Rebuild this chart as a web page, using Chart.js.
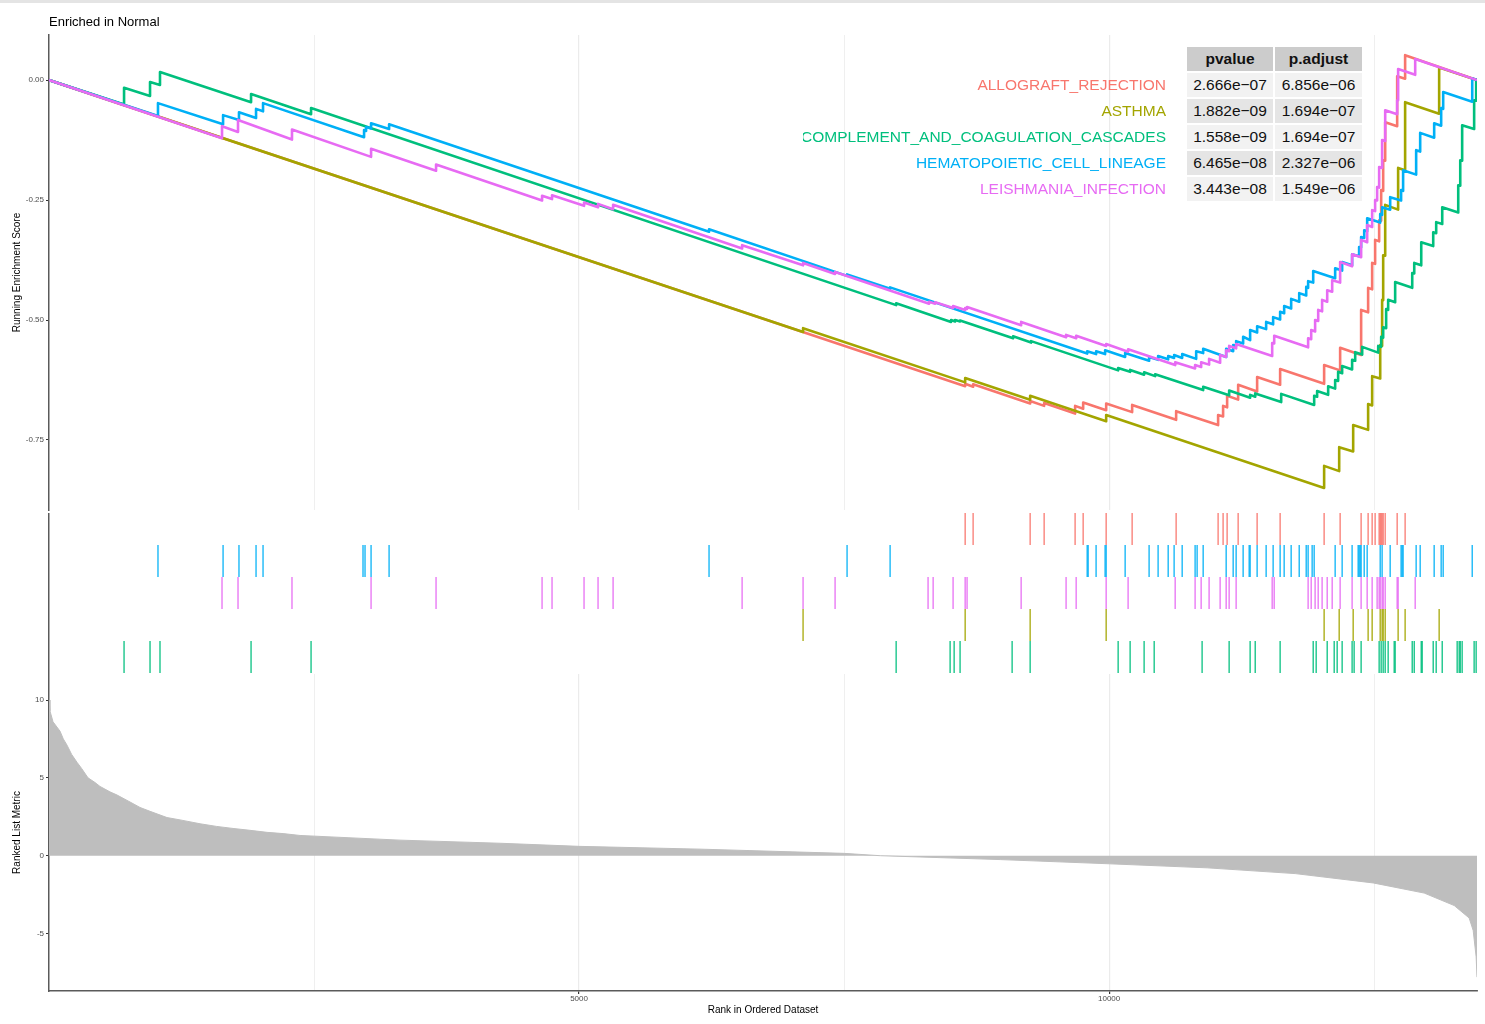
<!DOCTYPE html>
<html>
<head>
<meta charset="utf-8">
<title>Enriched in Normal</title>
<script src="https://cdn.jsdelivr.net/npm/chart.js@4.4.1/dist/chart.umd.min.js"></script>
<style>
  html, body { margin: 0; padding: 0; background: #fff; }
  #page { position: relative; width: 1485px; height: 1024px; overflow: hidden; font-family: "Liberation Sans", Arial, Helvetica, sans-serif; }
  #topline { position: absolute; left: 0; top: 0; width: 1485px; height: 3px; background: #e4e4e4; }
  canvas { position: absolute; left: 0; }
  #esChart { top: 0; }
  #rugChart { top: 513px; }
  #metricChart { top: 673px; }
  .cell { position: absolute; height: 24px; line-height: 24px; font-size: 15.5px; text-align: center; color: #111; }
  .head { background: #cccccc; font-weight: bold; }
  .odd { background: #f2f2f2; }
  .even { background: #e5e5e5; }
  .rowname { position: absolute; height: 24px; line-height: 24px; font-size: 15.5px;
             overflow: hidden; white-space: nowrap; display: flex; justify-content: flex-end; }
</style>
</head>
<body>
<div id="page">
  <div id="topline"></div>
  <canvas id="esChart" width="1485" height="513"></canvas>
  <canvas id="rugChart" width="1485" height="160"></canvas>
  <canvas id="metricChart" width="1485" height="351"></canvas>
  <div id="statTable"></div>
</div>
<script>
// ---- data ----
const N_GENES = 13470;

const setNames = ['ALLOGRAFT_REJECTION', 'ASTHMA', 'COMPLEMENT_AND_COAGULATION_CASCADES',
                  'HEMATOPOIETIC_CELL_LINEAGE', 'LEISHMANIA_INFECTION'];
const pvalues  = ['2.666e\u221207', '1.882e\u221209', '1.558e\u221209', '6.465e\u221208', '3.443e\u221208'];
const padjusts = ['6.856e\u221206', '1.694e\u221207', '1.694e\u221207', '2.327e\u221206', '1.549e\u221206'];

// running enrichment score: rank of each jump, score just before and just after it
const allograftSteps  = [8642, 8717, 9255, 9387, 9679, 9755, 9972, 10217, 10632, 11028, 11075, 11113, 11217, 11396, 11613, 12028, 12179, 12377, 12443, 12481, 12509, 12547, 12566, 12585, 12604, 12717, 12792];
const allograftBefore = [-0.638, -0.639, -0.674, -0.679, -0.695, -0.685, -0.688, -0.692, -0.708, -0.719, -0.701, -0.682, -0.666, -0.649, -0.635, -0.633, -0.605, -0.573, -0.484, -0.436, -0.383, -0.336, -0.293, -0.231, -0.168, -0.096, 0.003];
const allograftAfter  = [-0.633, -0.634, -0.669, -0.673, -0.679, -0.672, -0.674, -0.677, -0.690, -0.698, -0.679, -0.658, -0.635, -0.619, -0.602, -0.594, -0.558, -0.479, -0.433, -0.381, -0.333, -0.292, -0.229, -0.167, -0.088, 0.008, 0.052];

const asthmaSteps  = [7113, 8642, 9255, 9972, 12028, 12170, 12302, 12443, 12481, 12557, 12575, 12585, 12604, 12726, 12792, 13113];
const asthmaBefore = [-0.525, -0.630, -0.666, -0.711, -0.850, -0.815, -0.774, -0.729, -0.678, -0.622, -0.554, -0.459, -0.366, -0.270, -0.188, -0.070];
const asthmaAfter  = [-0.517, -0.621, -0.658, -0.698, -0.804, -0.765, -0.719, -0.675, -0.617, -0.552, -0.458, -0.365, -0.260, -0.183, -0.046, 0.026];

const complementSteps  = [708, 953, 1047, 1906, 2472, 7991, 8509, 8547, 8594, 9094, 9264, 10085, 10198, 10330, 10434, 10887, 11132, 11330, 11378, 11623, 11934, 11962, 12066, 12132, 12160, 12198, 12292, 12321, 12387, 12538, 12566, 12585, 12613, 12632, 12698, 12859, 12878, 12944, 13057, 13085, 13142, 13293, 13312, 13330, 13443, 13462];
const complementBefore = [-0.051, -0.033, -0.010, -0.046, -0.071, -0.469, -0.504, -0.503, -0.503, -0.538, -0.547, -0.605, -0.608, -0.614, -0.617, -0.646, -0.657, -0.662, -0.660, -0.671, -0.677, -0.660, -0.656, -0.643, -0.627, -0.611, -0.603, -0.585, -0.572, -0.568, -0.556, -0.537, -0.517, -0.479, -0.463, -0.433, -0.403, -0.386, -0.346, -0.319, -0.300, -0.276, -0.220, -0.168, -0.102, -0.043];
const complementAfter  = [-0.016, -0.004, 0.017, -0.029, -0.058, -0.465, -0.500, -0.500, -0.501, -0.534, -0.544, -0.600, -0.604, -0.609, -0.613, -0.639, -0.647, -0.656, -0.653, -0.654, -0.658, -0.648, -0.638, -0.625, -0.608, -0.596, -0.583, -0.567, -0.556, -0.554, -0.535, -0.515, -0.477, -0.458, -0.421, -0.402, -0.381, -0.338, -0.317, -0.296, -0.265, -0.219, -0.167, -0.094, -0.042, 0.001];

const hematoSteps  = [1028, 1642, 1792, 1953, 2019, 2972, 2991, 3038, 3208, 6226, 7528, 7934, 9793, 9877, 9962, 10151, 10377, 10462, 10557, 10613, 10689, 10821, 10887, 11104, 11170, 11198, 11264, 11330, 11396, 11481, 11547, 11613, 11651, 11717, 11793, 11859, 11877, 11925, 12132, 12198, 12292, 12358, 12377, 12406, 12434, 12557, 12575, 12651, 12754, 12773, 12896, 12934, 13066, 13132, 13151, 13425];
const hematoBefore = [-0.075, -0.092, -0.083, -0.079, -0.065, -0.119, -0.106, -0.101, -0.102, -0.316, -0.408, -0.435, -0.570, -0.571, -0.571, -0.577, -0.585, -0.583, -0.582, -0.579, -0.579, -0.581, -0.569, -0.577, -0.565, -0.554, -0.549, -0.542, -0.526, -0.519, -0.509, -0.499, -0.486, -0.476, -0.462, -0.449, -0.433, -0.422, -0.413, -0.397, -0.386, -0.367, -0.349, -0.329, -0.315, -0.297, -0.281, -0.270, -0.251, -0.231, -0.197, -0.149, -0.120, -0.095, -0.060, -0.045];
const hematoAfter  = [-0.048, -0.073, -0.067, -0.060, -0.048, -0.104, -0.098, -0.090, -0.092, -0.311, -0.405, -0.432, -0.565, -0.565, -0.563, -0.569, -0.577, -0.575, -0.575, -0.573, -0.571, -0.565, -0.560, -0.560, -0.552, -0.544, -0.535, -0.521, -0.513, -0.504, -0.494, -0.483, -0.471, -0.456, -0.444, -0.431, -0.419, -0.398, -0.392, -0.379, -0.363, -0.348, -0.327, -0.313, -0.288, -0.279, -0.265, -0.244, -0.229, -0.188, -0.146, -0.110, -0.090, -0.058, -0.025, 0.004];

const leishSteps  = [1632, 1783, 2292, 3038, 3651, 4651, 4745, 5047, 5179, 5321, 6538, 7113, 7415, 8302, 8359, 8528, 8642, 8660, 9170, 9594, 9689, 9972, 10179, 10623, 10811, 10868, 10943, 11047, 11104, 11132, 11198, 11538, 11557, 11877, 11906, 11943, 11972, 12009, 12057, 12104, 12179, 12292, 12377, 12434, 12481, 12509, 12528, 12547, 12575, 12604, 12717, 12726, 12887];
const leishBefore = [-0.121, -0.108, -0.124, -0.160, -0.189, -0.251, -0.248, -0.262, -0.265, -0.269, -0.351, -0.386, -0.404, -0.466, -0.466, -0.475, -0.479, -0.477, -0.511, -0.536, -0.538, -0.554, -0.566, -0.594, -0.601, -0.598, -0.593, -0.589, -0.577, -0.565, -0.559, -0.575, -0.549, -0.557, -0.540, -0.524, -0.502, -0.482, -0.462, -0.441, -0.422, -0.388, -0.369, -0.338, -0.306, -0.273, -0.251, -0.224, -0.183, -0.127, -0.071, -0.042, 0.011];
const leishAfter  = [-0.096, -0.083, -0.103, -0.143, -0.176, -0.241, -0.240, -0.255, -0.258, -0.260, -0.344, -0.381, -0.400, -0.462, -0.463, -0.471, -0.475, -0.473, -0.504, -0.531, -0.533, -0.550, -0.561, -0.588, -0.594, -0.588, -0.581, -0.573, -0.563, -0.554, -0.550, -0.548, -0.533, -0.538, -0.521, -0.500, -0.479, -0.458, -0.438, -0.417, -0.379, -0.363, -0.333, -0.302, -0.271, -0.250, -0.223, -0.181, -0.125, -0.063, -0.042, 0.023, 0.044];

// gene-set members along the ranked list (rug marks)
const allograftHits  = [8642, 8717, 9255, 9387, 9679, 9755, 9972, 10217, 10632, 11028, 11075, 11113, 11217, 11396, 11613, 12028, 12179, 12377, 12443, 12481, 12509, 12547, 12557, 12566, 12575, 12585, 12604, 12717, 12792];
const asthmaHits     = [7113, 8642, 9255, 9972, 12028, 12170, 12302, 12443, 12481, 12557, 12575, 12585, 12604, 12726, 12792, 13113];
const complementHits = [708, 953, 1047, 1906, 2472, 7991, 8500, 8538, 8594, 9085, 9255, 10085, 10198, 10330, 10425, 10877, 11132, 11330, 11378, 11613, 11925, 11953, 12057, 12123, 12151, 12198, 12292, 12311, 12377, 12547, 12566, 12585, 12604, 12632, 12689, 12698, 12859, 12878, 12944, 12953, 13057, 13085, 13142, 13283, 13302, 13312, 13330, 13443, 13462];
const hematoHits     = [1028, 1642, 1792, 1953, 2019, 2962, 2981, 3038, 3208, 6226, 7528, 7934, 9793, 9802, 9877, 9962, 9972, 10151, 10377, 10462, 10557, 10613, 10689, 10811, 10830, 10887, 11104, 11170, 11198, 11264, 11321, 11330, 11396, 11481, 11547, 11613, 11651, 11717, 11793, 11859, 11877, 11915, 11934, 12132, 12198, 12292, 12349, 12358, 12368, 12377, 12406, 12434, 12557, 12575, 12651, 12754, 12764, 12773, 12896, 12934, 13066, 13132, 13151, 13425];
const leishHits      = [1632, 1783, 2292, 3038, 3651, 4651, 4745, 5047, 5179, 5321, 6538, 7113, 7415, 8292, 8340, 8528, 8642, 8660, 9170, 9594, 9689, 9972, 10179, 10623, 10811, 10868, 10943, 11047, 11104, 11132, 11198, 11538, 11557, 11877, 11906, 11943, 11972, 12009, 12057, 12104, 12179, 12292, 12377, 12434, 12481, 12528, 12547, 12557, 12575, 12585, 12604, 12717, 12726, 12887];

// ranked list metric
const metricRank  = [0, 9, 38, 104, 135, 170, 214, 264, 308, 368, 434, 481, 575, 641, 764, 858, 953, 1113, 1236, 1425, 1582, 1736, 1896, 2057, 2208, 2368, 3311, 4255, 5000, 6151, 7500, 7840, 8972, 10000, 10925, 11755, 12491, 12972, 13255, 13396, 13434, 13462, 13470];
const metricValue = [10.0, 9.3, 8.6, 8.0, 7.5, 7.1, 6.5, 6.0, 5.6, 5.0, 4.7, 4.45, 4.1, 3.9, 3.45, 3.1, 2.85, 2.45, 2.3, 2.05, 1.88, 1.75, 1.63, 1.5, 1.42, 1.3, 1.0, 0.8, 0.6, 0.42, 0.15, 0.0, -0.25, -0.52, -0.78, -1.15, -1.75, -2.4, -3.2, -4.0, -4.8, -6.5, -7.8];

// axis ticks
const esTicks     = [-0.75, -0.5, -0.25, 0];
const metricTicks = [-5, 0, 5, 10];
const rankGrid    = [2500, 5000, 7500, 10000, 12500];
const rankLabels  = [5000, 10000];

// ---- styling ----
const setColors = ['#F8766D', '#A3A500', '#00BF7D', '#00B0F6', '#E76BF3'];
const rugTopToBottom = [0, 3, 4, 1, 2];   // index into setNames, top row first

const curves = [
  [allograftSteps, allograftBefore, allograftAfter],
  [asthmaSteps, asthmaBefore, asthmaAfter],
  [complementSteps, complementBefore, complementAfter],
  [hematoSteps, hematoBefore, hematoAfter],
  [leishSteps, leishBefore, leishAfter]
];
const hits = [allograftHits, asthmaHits, complementHits, hematoHits, leishHits];

Chart.defaults.font.family = '"Liberation Sans", Arial, Helvetica, sans-serif';
Chart.defaults.animation = false;
Chart.defaults.plugins.legend.display = false;
Chart.defaults.plugins.tooltip.enabled = false;

const AXIS_LINE = '#5a5a5a';
const TICK_TEXT = '#4d4d4d';
const GRID = '#ebebeb';

function stepPoints(steps, before, after) {
	const pts = [{ x: 0, y: 0 }];
	steps.forEach((r, i) => {
		pts.push({ x: r, y: before[i] });
		pts.push({ x: r, y: after[i] });
	});
	pts.push({ x: N_GENES, y: 0 });
	return pts;
}

function gridWidth(ctx) {
	return ctx.tick && rankLabels.includes(ctx.tick.value) ? 1.2 : 0.8;
}

// keep the panel edges exactly where the layout padding puts them
function noLabelPadding(s) {
	s.paddingTop = 0;
	s.paddingBottom = 0;
	s.paddingLeft = 0;
	s.paddingRight = 0;
}

function leftAxis(min, max, ticks, title, fmt) {
	return {
		type: 'linear', min: min, max: max,
		afterBuildTicks: s => { s.ticks = ticks.map(v => ({ value: v })); },
		afterFit: s => { s.width = 49; noLabelPadding(s); },
		ticks: { font: { size: 8 }, color: TICK_TEXT, padding: 2, callback: fmt },
		grid: { drawOnChartArea: false, tickLength: 3, tickColor: '#333', tickWidth: 1 },
		border: { display: true, color: AXIS_LINE, width: 1.5 },
		title: { display: true, text: title, font: { size: 10 }, color: '#000', padding: { top: 11, bottom: 0 } }
	};
}

// plot title, left-aligned with the panel
const plotTitle = {
	id: 'plotTitle',
	afterDraw(chart, args, opts) {
		const ctx = chart.ctx;
		ctx.save();
		ctx.font = '13px "Liberation Sans", Arial, sans-serif';
		ctx.fillStyle = '#000';
		ctx.textBaseline = 'middle';
		ctx.fillText(opts.text, chart.chartArea.left, opts.y);
		ctx.restore();
	}
};

// ---- running enrichment score panel ----
new Chart(document.getElementById('esChart'), {
	type: 'line',
	data: {
		datasets: setNames.map((name, i) => ({
			label: name,
			data: stepPoints(curves[i][0], curves[i][1], curves[i][2]),
			borderColor: setColors[i],
			borderWidth: 2.6,
			borderJoinStyle: 'round',
			pointRadius: 0,
			tension: 0,
			order: setNames.length - 1 - i
		}))
	},
	options: {
		responsive: false,
		layout: { autoPadding: false, padding: { top: 35, right: 8, bottom: 3, left: 0 } },
		scales: {
			x: {
				type: 'linear', min: 0, max: N_GENES,
				afterBuildTicks: s => { s.ticks = rankGrid.map(v => ({ value: v })); },
				afterFit: s => { s.height = 0; noLabelPadding(s); },
				ticks: { display: false },
				grid: { color: GRID, lineWidth: gridWidth, drawTicks: false },
				border: { display: false }
			},
			y: leftAxis(-0.896, 0.094, esTicks, 'Running Enrichment Score', v => v.toFixed(2))
		},
		plugins: { plotTitle: { text: 'Enriched in Normal', y: 22 } }
	},
	plugins: [plotTitle]
});

// ---- rug of gene-set members ----
new Chart(document.getElementById('rugChart'), {
	type: 'scatter',
	data: {
		datasets: rugTopToBottom.map((s, row) => ({
			label: setNames[s],
			data: hits[s].map(r => ({ x: r, y: 4.5 - row })),
			pointStyle: 'line',
			pointRadius: 16,
			pointRotation: 90,
			pointBorderColor: setColors[s] + 'e6',
			pointBorderWidth: 1.4,
			showLine: false
		}))
	},
	options: {
		responsive: false,
		layout: { autoPadding: false, padding: { top: 0, right: 8, bottom: 0, left: 0 } },
		scales: {
			x: { type: 'linear', min: 0, max: N_GENES, display: false },
			y: {
				type: 'linear', min: 0, max: 5,
				afterFit: s => { s.width = 49; noLabelPadding(s); },
				ticks: { display: false },
				grid: { display: false },
				border: { display: true, color: AXIS_LINE, width: 1.5 }
			}
		}
	}
});

// ---- ranked list metric ----
new Chart(document.getElementById('metricChart'), {
	type: 'line',
	data: {
		datasets: [{
			label: 'Ranked List Metric',
			data: metricRank.map((r, i) => ({ x: r, y: metricValue[i] })),
			borderColor: '#bebebe',
			borderWidth: 1,
			backgroundColor: '#bebebe',
			fill: 'origin',
			pointRadius: 0,
			tension: 0
		}]
	},
	options: {
		responsive: false,
		layout: { autoPadding: false, padding: { top: 1, right: 8, bottom: 0, left: 0 } },
		scales: {
			x: {
				type: 'linear', min: 0, max: N_GENES,
				afterBuildTicks: s => { s.ticks = rankGrid.map(v => ({ value: v })); },
				afterFit: s => { s.height = 33; noLabelPadding(s); },
				ticks: {
					font: { size: 8 }, color: TICK_TEXT, padding: 0, maxRotation: 0, autoSkip: false,
					callback: v => rankLabels.includes(v) ? String(v) : ''
				},
				grid: {
					color: GRID, lineWidth: gridWidth, tickLength: 3,
					tickColor: ctx => ctx.tick && rankLabels.includes(ctx.tick.value) ? '#333' : 'rgba(0,0,0,0)'
				},
				border: { display: true, color: AXIS_LINE, width: 1.5 },
				title: { display: true, text: 'Rank in Ordered Dataset', font: { size: 10 }, color: '#000', padding: { top: 0, bottom: 8 } }
			},
			y: leftAxis(-8.69, 11.67, metricTicks, 'Ranked List Metric', v => String(v))
		}
	}
});

// ---- statistics table with coloured row names ----
const table = document.getElementById('statTable');
function addCell(cls, left, top, width, text, color) {
	const d = document.createElement('div');
	d.className = cls;
	d.style.left = left + 'px';
	d.style.top = top + 'px';
	d.style.width = width + 'px';
	if (color) d.style.color = color;
	d.textContent = text;
	table.appendChild(d);
}
addCell('cell head', 1187, 47, 86, 'pvalue');
addCell('cell head', 1275, 47, 87, 'p.adjust');
setNames.forEach((name, i) => {
	const top = 73 + 26 * i;
	const shade = i % 2 === 0 ? 'odd' : 'even';
	addCell('rowname', 803, top, 363, name, setColors[i]);
	addCell('cell ' + shade, 1187, top, 86, pvalues[i]);
	addCell('cell ' + shade, 1275, top, 87, padjusts[i]);
});
</script>
</body>
</html>
